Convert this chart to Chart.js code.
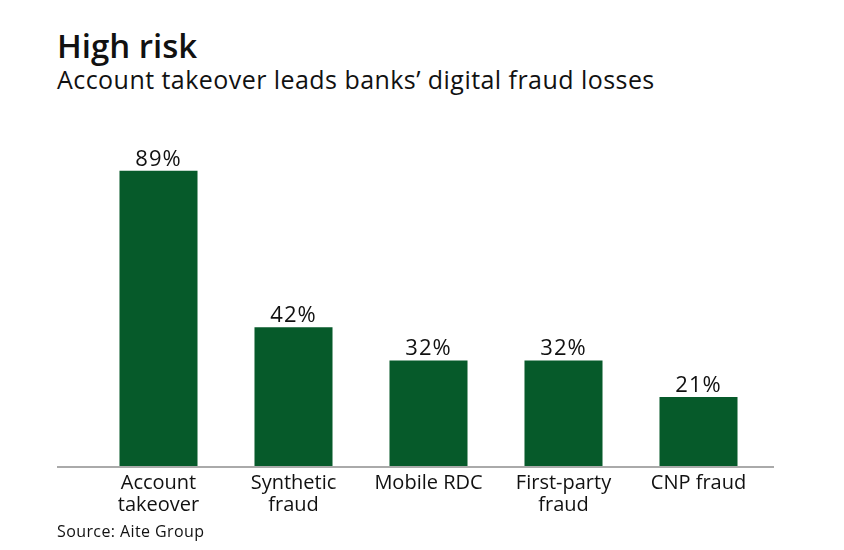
<!DOCTYPE html>
<html>
<head>
<meta charset="utf-8">
<script src="https://cdn.jsdelivr.net/npm/chart.js@4.4.0/dist/chart.umd.min.js"></script>
<style>
  html, body { margin: 0; padding: 0; background: #fff; }
  #wrap { position: relative; width: 844px; height: 550px; font-family: "Open Sans", "Noto Sans", sans-serif; color: #111; }
  #title { position: absolute; left: 57px; top: 23.5px; font-size: 33px; font-weight: 600; line-height: 44px; }
  #subtitle { position: absolute; left: 57px; top: 61.5px; font-size: 25px; letter-spacing: 0.45px; line-height: 34px; }
  #source { position: absolute; left: 57px; top: 519.5px; font-size: 16px; letter-spacing: 0.4px; line-height: 22px; }
  canvas { position: absolute; left: 0; top: 0; }
</style>
</head>
<body>
<div id="wrap">
  <div id="title">High risk</div>
  <div id="subtitle">Account takeover leads banks’ digital fraud losses</div>
  <canvas id="chart" width="844" height="550"></canvas>
  <div id="source">Source: Aite Group</div>
</div>
<script>
// データ
const categories = [["Account", "takeover"], ["Synthetic", "fraud"], ["Mobile RDC"], ["First-party", "fraud"], ["CNP fraud"]];
const shares = [89, 42, 32, 32, 21];
const barColor = "#065a2a";
const fontFamily = "'Open Sans', 'Noto Sans', sans-serif";

// 棒の上に%表示
const valueLabels = {
  id: "valueLabels",
  afterDatasetsDraw(chart) {
    const ctx = chart.ctx;
    const meta = chart.getDatasetMeta(0);
    ctx.save();
    ctx.font = "22px " + fontFamily;
    ctx.letterSpacing = "1px";
    ctx.fillStyle = "#111";
    ctx.textAlign = "center";
    ctx.textBaseline = "alphabetic";
    meta.data.forEach((bar, i) => {
      ctx.fillText(shares[i] + "%", bar.x, bar.y - 5);
    });
    ctx.restore();
  }
};

// ベースライン（グラフ領域より少し広め）
const baseLine = {
  id: "baseLine",
  afterDatasetsDraw(chart) {
    const ctx = chart.ctx;
    const y = chart.scales.y.getPixelForValue(0);
    ctx.save();
    ctx.strokeStyle = "#aaaaaa";
    ctx.lineWidth = 2;
    ctx.beginPath();
    ctx.moveTo(chart.chartArea.left - 34, y);
    ctx.lineTo(chart.chartArea.right + 8, y);
    ctx.stroke();
    ctx.restore();
  }
};

new Chart(document.getElementById("chart"), {
  type: "bar",
  data: {
    labels: categories,
    datasets: [{
      data: shares,
      backgroundColor: barColor,
      barPercentage: 0.578,
      categoryPercentage: 1
    }]
  },
  options: {
    responsive: false,
    animation: false,
    layout: { padding: { left: 91, right: 78, top: 134, bottom: 0 } },
    plugins: { legend: { display: false }, tooltip: { enabled: false } },
    scales: {
      x: {
        grid: { display: false, drawTicks: false },
        border: { display: false },
        ticks: {
          color: "#111",
          font: { family: fontFamily, size: 20, lineHeight: 1.1 },
          padding: 5,
          maxRotation: 0,
          autoSkip: false
        },
        afterFit(scale) { scale.height = 83; }
      },
      y: {
        display: false,
        min: 0,
        max: 100
      }
    }
  },
  plugins: [baseLine, valueLabels]
});
</script>
</body>
</html>
